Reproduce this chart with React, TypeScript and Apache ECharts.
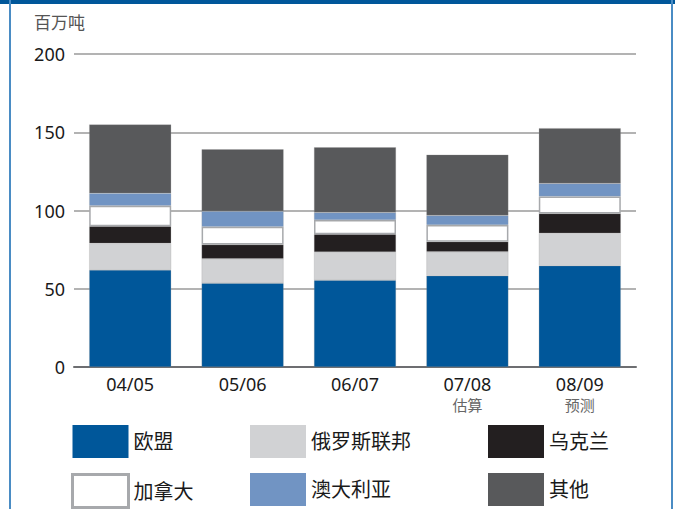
import React, { useEffect, useRef } from "react";
import * as echarts from "echarts";

const categories = ["04/05", "05/06", "06/07", "07/08", "08/09"];
const subLabels = ["", "", "", "估算", "预测"];
const seriesNames = ["欧盟", "俄罗斯联邦", "乌克兰", "加拿大", "澳大利亚", "其他"];
const eu = [62, 53.5, 55.4, 58.3, 64.7];
const russia = [17, 15.7, 18.1, 15.4, 20.8];
const ukraine = [11, 9, 11.4, 6.4, 12.6];
const canada = [13, 11.4, 9.1, 10.7, 10.9];
const australia = [8, 10, 4.7, 6, 8.3];
const other = [44, 39.5, 41.7, 38.9, 35.3];
const yTicks = [0, 50, 100, 150, 200];
const unitLabel = "百万吨";

const colors = ["#00579a", "#d1d2d4", "#231f20", "#ffffff", "#7194c3", "#58595b"];
const FONT = "'Noto Sans', 'Noto Sans CJK SC', sans-serif";

export default function App() {
  const ref = useRef<HTMLDivElement>(null);
  useEffect(() => {
    if (!ref.current) return;
    const chart = echarts.init(ref.current, null, { renderer: "svg" });
    const values = [eu, russia, ukraine, canada, australia, other];
    const series = values.map((v, i) => ({
      name: seriesNames[i],
      type: "bar",
      stack: "total",
      barWidth: 82,
      data: v,
      itemStyle: {
        color: colors[i],
        borderColor: i === 3 ? "#a7a9ac" : "rgba(150,150,150,0.5)",
        borderWidth: i === 3 ? 1.5 : 0.5,
      },
    }));
    const legendCol = (names: string[], left: number) => ({
      orient: "vertical",
      left,
      top: 425,
      height: 120,
      padding: 0,
      itemWidth: 56,
      itemHeight: 33,
      itemGap: 15,
      icon: "rect",
      selectedMode: false,
      textStyle: { fontSize: 20, color: "#1a1a1a", fontFamily: FONT, padding: [0, 0, 0, 0] },
      data: names.map((n) =>
        n === "加拿大"
          ? { name: n, itemStyle: { color: "#fff", borderColor: "#a7a9ac", borderWidth: 3 } }
          : { name: n, itemStyle: { borderWidth: 0 } }
      ),
    });
    chart.setOption({
      animation: false,
      grid: { left: 74, right: 39, top: 54, bottom: 142, containLabel: false },
      xAxis: {
        type: "category",
        data: categories,
        axisTick: { show: false },
        axisLine: { show: true, lineStyle: { color: "#6d6e71", width: 2 } },
        axisLabel: {
          margin: 7,
          interval: 0,
          formatter: (v: string, idx: number) =>
            subLabels[idx] ? `{a|${v}}\n{b|${subLabels[idx]}}` : `{a|${v}}`,
          rich: {
            a: { fontSize: 18, color: "#1a1a1a", fontFamily: FONT, lineHeight: 20 },
            b: { fontSize: 15, color: "#666", fontFamily: FONT, lineHeight: 22 },
          },
          verticalAlign: "top",
        },
      },
      yAxis: {
        type: "value",
        min: yTicks[0],
        max: yTicks[yTicks.length - 1],
        interval: 50,
        axisLine: { show: false },
        axisTick: { show: false },
        axisLabel: { fontSize: 18, color: "#1a1a1a", fontFamily: FONT, margin: 9 },
        splitLine: { lineStyle: { color: "#9a9a9a", width: 1.5 } },
      },
      legend: [
        legendCol([seriesNames[0], seriesNames[3]], 71),
        legendCol([seriesNames[1], seriesNames[4]], 250),
        legendCol([seriesNames[2], seriesNames[5]], 488),
      ],
      graphic: [
        { type: "rect", shape: { x: 0, y: 0, width: 675, height: 4 }, style: { fill: "#00579a" } },
        { type: "rect", shape: { x: 9, y: 0, width: 2, height: 509 }, style: { fill: "#4a8cc4" } },
        { type: "rect", shape: { x: 671, y: 0, width: 2, height: 509 }, style: { fill: "#4a8cc4" } },
        {
          type: "text",
          x: 34,
          y: 22,
          style: { text: unitLabel, fontSize: 17, fill: "#555", fontFamily: FONT, verticalAlign: "middle" },
        },
      ],
      series,
    });
    return () => chart.dispose();
  }, []);
  return (
    <div
      ref={ref}
      style={{ position: "fixed", left: 0, top: 0, width: 675, height: 509, background: "#fff" }}
    />
  );
}
